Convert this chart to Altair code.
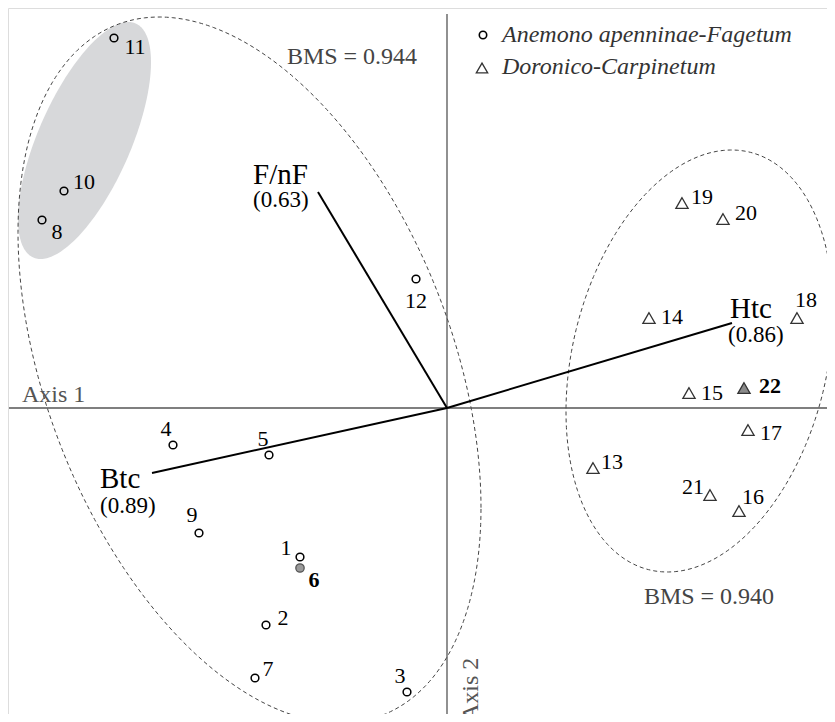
import altair as alt
import numpy as np
import pandas as pd

# ---------------- data ----------------
# releves (plots) in the ordination space (Axis 1, Axis 2)
plot_ids = [str(i) for i in range(1, 23)]
axis1 = [-1.47, -1.81, -0.40, -2.74, -1.78, -1.47, -1.92, -4.05, -2.48, -3.83, -3.33, -0.31,
         1.46, 2.02, 2.42, 2.92, 3.01, 3.50, 2.35, 2.76, 2.63, 2.97]
axis2 = [-1.49, -2.17, -2.84, -0.37, -0.47, -1.60, -2.70, 1.88, -1.25, 2.17, 3.70, 1.29,
         -0.60, 0.90, 0.15, -1.03, -0.22, 0.90, 2.05, 1.89, -0.87, 0.20]
association = ["Anemono apenninae-Fagetum"] * 12 + ["Doronico-Carpinetum"] * 10
highlighted = ["6", "22"]

# label placement around each marker (pixels: right, down)
label_dx = [-14, 17, -7, -7, -6, 14, 13, 15, -7, 20, 21, 0,
            19, 23, 23, 14, 23, 9, 20, 23, -17, 26]
label_dy = [-9, -7, -16, -16, -16, 12, -9, 12, -18, -9, 9, 22,
            -6, -1, 0, -14, 3, -18, -6, -6, -8, -2]

# environmental vectors
var_names = ["F/nF", "Btc", "Htc"]
var_loadings = ["(0.63)", "(0.89)", "(0.86)"]
var_x = [-1.29, -2.95, 2.85]
var_y = [2.16, -0.65, 0.85]
# text placement relative to arrow tip (pixels)
var_name_dx = [-65, -52, -2]
var_name_dy = [-8, 15, -5]
var_load_dx = [-65, -52, -4]
var_load_dy = [15, 40, 19]

# group ellipses: centre, half extents, correlation
ell_names = ["Anemono", "Doronico", "core"]
ell_cx = [-1.975, 2.525, -3.625]
ell_cy = [0.38, 0.47, 2.675]
ell_wx = [2.315, 1.335, 0.665]
ell_wy = [3.53, 2.11, 1.185]
ell_rho = [-0.39, 0.24, 0.66]

bms_labels = ["BMS = 0.944", "BMS = 0.940"]
bms_x = [-0.95, 2.62]
bms_y = [3.44, -1.96]

legend_labels = ["Anemono apenninae-Fagetum", "Doronico-Carpinetum"]

# ---------------- layout ----------------
PX = 100.0  # pixels per ordination unit
XDOM = [-4.39, 3.80]
YDOM = [-3.06, 4.00]
W = int(round((XDOM[1] - XDOM[0]) * PX))
H = int(round((YDOM[1] - YDOM[0]) * PX))
FONT = "Liberation Serif"

xs = alt.Scale(domain=XDOM, nice=False, zero=False)
ys = alt.Scale(domain=YDOM, nice=False, zero=False)


def X(f):
    return alt.X(f, type="quantitative", scale=xs, axis=None)


def Y(f):
    return alt.Y(f, type="quantitative", scale=ys, axis=None)


pts = pd.DataFrame({"id": plot_ids, "x": axis1, "y": axis2, "assoc": association,
                    "dx": label_dx, "dy": label_dy})
pts["lx"] = pts["x"] + pts["dx"] / PX
pts["ly"] = pts["y"] - pts["dy"] / PX
pts["hl"] = pts["id"].isin(highlighted)

circ = pts[(pts["assoc"] == association[0]) & (~pts["hl"])]
circ_hl = pts[(pts["assoc"] == association[0]) & (pts["hl"])]
tri = pts[(pts["assoc"] != association[0]) & (~pts["hl"])]
tri_hl = pts[(pts["assoc"] != association[0]) & (pts["hl"])]

# ellipse outlines
rows = []
for n, cx, cy, wx, wy, r in zip(ell_names, ell_cx, ell_cy, ell_wx, ell_wy, ell_rho):
    for i, t in enumerate(np.linspace(0, 2 * np.pi, 241)):
        rows.append({"e": n, "i": i,
                     "x": cx + wx * np.cos(t),
                     "y": cy + wy * (r * np.cos(t) + np.sqrt(1 - r * r) * np.sin(t))})
ell_df = pd.DataFrame(rows)
outline_df = ell_df[ell_df["e"] != "core"]

# filled core ellipse as area
k = ell_names.index("core")
tt = np.linspace(0, np.pi, 121)
cx, cy, wx, wy, r = ell_cx[k], ell_cy[k], ell_wx[k], ell_wy[k], ell_rho[k]
core_df = pd.DataFrame({
    "x": cx + wx * np.cos(tt),
    "y": cy + wy * (r * np.cos(tt) + np.sqrt(1 - r * r) * np.sin(tt)),
    "y2": cy + wy * (r * np.cos(tt) - np.sqrt(1 - r * r) * np.sin(tt)),
})

vec = pd.DataFrame({"name": var_names, "load": var_loadings, "x": var_x, "y": var_y,
                    "x0": [0.0] * 3, "y0": [0.0] * 3})
vec["nx"] = vec["x"] + pd.Series(var_name_dx) / PX
vec["ny"] = vec["y"] - pd.Series(var_name_dy) / PX
vec["vx"] = vec["x"] + pd.Series(var_load_dx) / PX
vec["vy"] = vec["y"] - pd.Series(var_load_dy) / PX

axes_df = pd.DataFrame({"x": [XDOM[0] + 0.01, 0.0], "x2": [XDOM[1], 0.0],
                        "y": [0.0, YDOM[1] - 0.06], "y2": [0.0, YDOM[0]]})

bms = pd.DataFrame({"t": bms_labels, "x": bms_x, "y": bms_y})

leg = pd.DataFrame({"t": legend_labels, "mx": [0.36, 0.35], "my": [3.73, 3.40],
                    "tx": [0.55, 0.55], "ty": [3.66, 3.34]})

# ---------------- marks ----------------
core = alt.Chart(core_df).mark_area(color="#d7d8da", opacity=1, clip=True).encode(
    x=X("x"), y=Y("y"), y2="y2")

outlines = alt.Chart(outline_df).mark_line(
    color="#444", strokeWidth=1, strokeDash=[4, 3], clip=True).encode(
    x=X("x"), y=Y("y"), detail="e:N", order="i:Q")

axes_lines = alt.Chart(axes_df).mark_rule(color="#555", strokeWidth=1.3, clip=True).encode(
    x=X("x"), x2="x2", y=Y("y"), y2="y2")

vectors = alt.Chart(vec).mark_rule(color="black", strokeWidth=2).encode(
    x=X("x0"), y=Y("y0"), x2="x", y2="y")

vec_names = alt.Chart(vec).mark_text(font=FONT, fontSize=29, align="left",
                                     baseline="alphabetic", color="black").encode(
    x=X("nx"), y=Y("ny"), text="name:N")
vec_loads = alt.Chart(vec).mark_text(font=FONT, fontSize=23, align="left",
                                     baseline="alphabetic", color="black").encode(
    x=X("vx"), y=Y("vy"), text="load:N")

circles = alt.Chart(circ).mark_point(shape="circle", filled=False, size=60, strokeWidth=1.5,
                                     color="black", opacity=1).encode(x=X("x"), y=Y("y"))
circles_hl = alt.Chart(circ_hl).mark_point(shape="circle", filled=True, size=70,
                                           fill="#9a9a9a", stroke="#555", strokeWidth=1.3,
                                           opacity=1).encode(x=X("x"), y=Y("y"))
tris = alt.Chart(tri).mark_point(shape="triangle-up", filled=False, size=150, strokeWidth=1.3,
                                 color="#333", opacity=1).encode(x=X("x"), y=Y("y"))
tris_hl = alt.Chart(tri_hl).mark_point(shape="triangle-up", filled=True, size=150,
                                       fill="#8a8a8a", stroke="#333", strokeWidth=1.3,
                                       opacity=1).encode(x=X("x"), y=Y("y"))

labels = alt.Chart(pts[~pts["hl"]]).mark_text(font=FONT, fontSize=22, align="center",
                                              baseline="middle", color="black").encode(
    x=X("lx"), y=Y("ly"), text="id:N")
labels_hl = alt.Chart(pts[pts["hl"]]).mark_text(font=FONT, fontSize=22, align="center",
                                                baseline="middle", fontWeight="bold",
                                                color="black").encode(
    x=X("lx"), y=Y("ly"), text="id:N")

bms_text = alt.Chart(bms).mark_text(font=FONT, fontSize=24, align="center",
                                    baseline="alphabetic", color="#444").encode(
    x=X("x"), y=Y("y"), text="t:N")

axis1_lab = alt.Chart(pd.DataFrame({"t": ["Axis 1"], "x": [-4.25], "y": [0.06]})).mark_text(
    font=FONT, fontSize=24, align="left", baseline="alphabetic", color="#555").encode(
    x=X("x"), y=Y("y"), text="t:N")
axis2_lab = alt.Chart(pd.DataFrame({"t": ["Axis 2"], "x": [0.31], "y": [-3.13]})).mark_text(
    font=FONT, fontSize=24, align="left", baseline="alphabetic", angle=270,
    color="#555").encode(x=X("x"), y=Y("y"), text="t:N")

leg_c = alt.Chart(leg.iloc[[0]]).mark_point(shape="circle", filled=False, size=55,
                                            strokeWidth=1.6, color="black", opacity=1).encode(
    x=X("mx"), y=Y("my"))
leg_t = alt.Chart(leg.iloc[[1]]).mark_point(shape="triangle-up", filled=False, size=130,
                                            strokeWidth=1.3, color="#333", opacity=1).encode(
    x=X("mx"), y=Y("my"))
leg_txt = alt.Chart(leg).mark_text(font=FONT, fontSize=24, fontStyle="italic", align="left",
                                   baseline="alphabetic", color="#333").encode(
    x=X("tx"), y=Y("ty"), text="t:N")

chart = alt.layer(
    core, outlines, axes_lines, vectors, vec_names, vec_loads,
    circles, circles_hl, tris, tris_hl, labels, labels_hl,
    bms_text, axis1_lab, axis2_lab, leg_c, leg_t, leg_txt,
).properties(
    width=W, height=H, padding=0,
    autosize=alt.AutoSizeParams(type="none"),
).configure_view(stroke=None).configure(background="white")

chart.save("out.html", embed_options={"renderer": "svg", "actions": False})
